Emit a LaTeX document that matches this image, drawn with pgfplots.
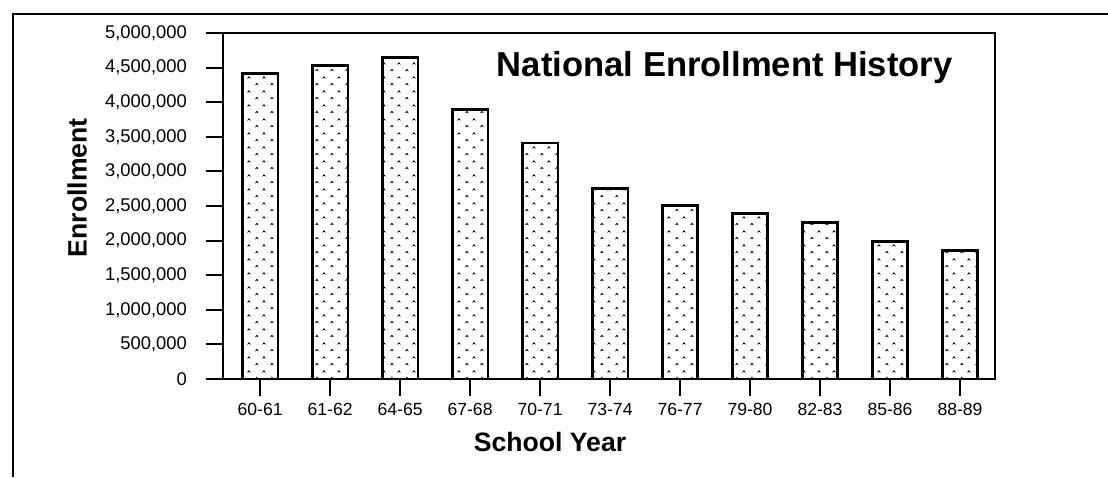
\documentclass[border=0pt]{standalone}
\usepackage{pgfplots}
\pgfplotsset{compat=1.18}
\usepackage{fontspec}
\setmainfont{Liberation Sans}
\usetikzlibrary{patterns}
\pgfdeclarepatternformonly{sparsedots}{\pgfpointorigin}{\pgfpoint{7.5pt}{7pt}}{\pgfpoint{7.5pt}{7pt}}{
  \pgfpathmoveto{\pgfpoint{0pt}{0.4pt}}\pgfpathlineto{\pgfpoint{1pt}{1.8pt}}\pgfpathlineto{\pgfpoint{2pt}{0.4pt}}\pgfpathlineto{\pgfpoint{1pt}{0.9pt}}\pgfpathclose
  \pgfpathmoveto{\pgfpoint{3.75pt}{3.9pt}}\pgfpathlineto{\pgfpoint{4.75pt}{5.3pt}}\pgfpathlineto{\pgfpoint{5.75pt}{3.9pt}}\pgfpathlineto{\pgfpoint{4.75pt}{4.4pt}}\pgfpathclose
  \pgfusepath{fill}}
\begin{document}
\begin{tikzpicture}
\useasboundingbox (0,0) rectangle (554pt,238.5pt);
\draw[line width=1.1pt] (6.5pt,0) -- (6.5pt,231.5pt) -- (554pt,231.5pt);
\begin{axis}[
  scale only axis,
  width=386pt, height=173pt,
  at={(111.5pt,49pt)}, anchor=south west,
  xmin=-0.53, xmax=10.5,
  ymin=0, ymax=5000000,
  axis line style={line width=1pt},
  xtick={0,...,10},
  xticklabels={60-61,61-62,64-65,67-68,70-71,73-74,76-77,79-80,82-83,85-86,88-89},
  ytick={0,500000,...,5000000},
  scaled y ticks=false,
  tick align=outside,
  major tick length=8.5pt,
  tick style={line width=1pt, black},
  xtick pos=bottom, ytick pos=left,
  /pgf/number format/fixed,
  /pgf/number format/precision=0,
  /pgf/number format/1000 sep={,},
  /pgf/number format/assume math mode=true,
  yticklabel style={font=\fontsize{9.2}{10}\selectfont, xshift=-6pt},
  xticklabel style={font=\fontsize{8.8}{10}\selectfont},
  xlabel={School Year},
  ylabel={Enrollment},
  xlabel style={font=\fontsize{13.3}{15}\selectfont\bfseries, at={(axis description cs:0.4236,-0.182)}, anchor=center},
  ylabel style={font=\fontsize{13.3}{15}\selectfont\bfseries, at={(axis description cs:-0.189,0.553)}, anchor=center},
  title={National Enrollment History},
  every axis title shift=0pt,
  title style={font=\fontsize{17.3}{20}\selectfont\bfseries, at={(axis description cs:0.65,0.899)}, anchor=center},
]
\addplot[ybar, bar width=0.51, draw=black, line width=1.4pt, pattern=sparsedots, pattern color=black]
coordinates {
(0,4420000) (1,4530000) (2,4650000) (3,3890000) (4,3410000) (5,2750000)
(6,2510000) (7,2390000) (8,2260000) (9,1990000) (10,1860000)
};
\end{axis}
\end{tikzpicture}
\end{document}
